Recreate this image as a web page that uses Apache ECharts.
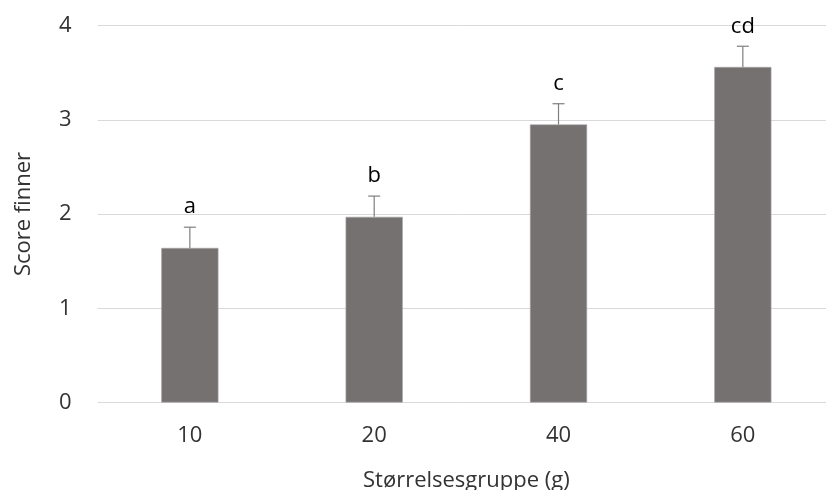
<!DOCTYPE html>
<html>
<head>
<meta charset="utf-8">
<script src="https://cdn.jsdelivr.net/npm/echarts@6/dist/echarts.min.js"></script>
<style>html,body{margin:0;padding:0;background:#fff}#c{width:826px;height:490px}</style>
</head>
<body>
<div id="c"></div>
<script>
const categories = ['10', '20', '40', '60'];
const means = [1.64, 1.97, 2.95, 3.56];
const errors = [0.22, 0.22, 0.22, 0.22];
const letters = ['a', 'b', 'c', 'cd'];
const yTicks = [0, 1, 2, 3, 4];

const FONT = '"Open Sans", sans-serif';
const chart = echarts.init(document.getElementById('c'), null, {renderer: 'canvas'});

chart.setOption({
  animation: false,
  backgroundColor: '#fff',
  grid: {left: 97.7, right: -9, top: 25.5, bottom: 87.5, containLabel: false, outerBoundsMode: 'none'},
  xAxis: {
    type: 'category',
    data: categories,
    name: 'Størrelsesgruppe (g)',
    nameLocation: 'middle',
    nameGap: 67,
    nameTextStyle: {fontFamily: FONT, fontSize: 22, color: '#333'},
    axisLine: {show: false},
    axisTick: {show: false},
    axisLabel: {fontFamily: FONT, fontSize: 22, color: '#333', margin: 22}
  },
  yAxis: {
    type: 'value',
    min: yTicks[0],
    max: yTicks[yTicks.length - 1],
    interval: 1,
    name: 'Score finner',
    nameLocation: 'middle',
    nameGap: 63,
    nameRotate: 90,
    nameTextStyle: {fontFamily: FONT, fontSize: 22, color: '#333'},
    axisLine: {show: false},
    axisTick: {show: false},
    axisLabel: {fontFamily: FONT, fontSize: 22, color: '#333', margin: 26},
    splitLine: {lineStyle: {color: '#d9d9d9', width: 1}}
  },
  series: [
    {
      type: 'bar',
      data: means,
      barWidth: '31%',
      itemStyle: {color: '#767171', borderColor: '#a6a6a6', borderWidth: 0.6}
    },
    {
      type: 'custom',
      data: means.map((m, i) => [i, m, errors[i], letters[i]]),
      z: 5,
      renderItem: function (params, api) {
        const i = api.value(0);
        const top = api.coord([i, api.value(1) + api.value(2)]);
        const base = api.coord([i, api.value(1)]);
        const half = 6;
        return {
          type: 'group',
          children: [
            {type: 'line', shape: {x1: top[0], y1: base[1], x2: top[0], y2: top[1]}, style: {stroke: '#7f7f7f', lineWidth: 1.2}},
            {type: 'line', shape: {x1: top[0] - half, y1: top[1], x2: top[0] + half, y2: top[1]}, style: {stroke: '#7f7f7f', lineWidth: 1.2}},
            {type: 'text', x: top[0], y: top[1] - 9, style: {text: letters[i], fill: '#000', font: '22px ' + FONT, align: 'center', verticalAlign: 'bottom'}}
          ]
        };
      }
    }
  ]
});
</script>
</body>
</html>
